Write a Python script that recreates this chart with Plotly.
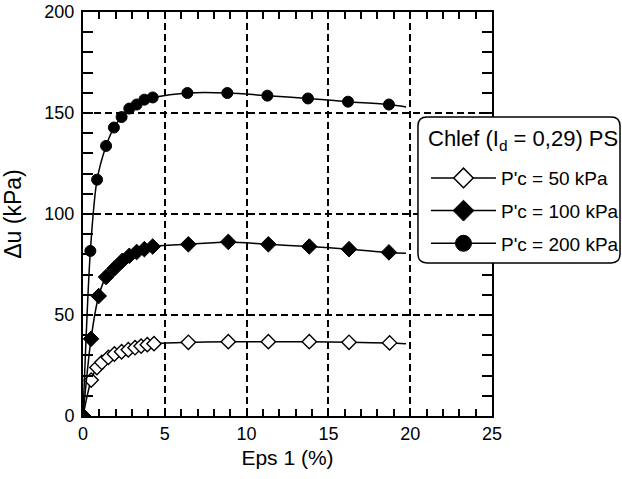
import plotly.graph_objects as go

# ---- data ----
eps_50 = [0, 0.5, 0.85, 1.15, 1.55, 1.92, 2.36, 2.77, 3.18, 3.55, 3.93, 4.34,
          6.44, 8.88, 11.33, 13.83, 16.26, 18.74, 19.74]
du_50 = [0, 17.8, 24.0, 26.5, 29.0, 30.7, 31.8, 32.8, 33.8, 34.6, 35.3, 35.8,
         36.5, 36.8, 36.8, 36.8, 36.5, 36.2, 35.8]

eps_100 = [0, 0.49, 0.96, 1.41, 1.92, 2.4, 2.83, 3.28, 3.75, 4.26,
           6.44, 8.88, 11.33, 13.83, 16.26, 18.7, 19.74]
du_100 = [0, 38.2, 59.4, 68.8, 73.0, 76.8, 79.3, 81.2, 82.6, 83.9,
          85.0, 86.2, 85.0, 83.9, 82.6, 81.0, 80.6]

eps_200 = [0, 0.45, 0.86, 1.41, 1.89, 2.36, 2.83, 3.28, 3.75, 4.26,
           6.38, 8.82, 11.27, 13.75, 16.2, 18.7, 19.75]
du_200 = [0, 81.7, 117.0, 133.7, 142.8, 148.0, 152.2, 154.2, 156.6, 157.7,
          159.9, 159.9, 158.6, 157.2, 155.6, 154.2, 153.0]

series_names = ["P'c = 50 kPa", "P'c = 100 kPa", "P'c = 200 kPa"]
legend_title = "Chlef (I<sub>d</sub> = 0,29) PS"
x_title = "Eps 1 (%)"
y_title = "Δu (kPa)"
x_ticks = [0, 5, 10, 15, 20, 25]
y_ticks = [0, 50, 100, 150, 200]

FONT = "Liberation Sans, Arial, Helvetica, sans-serif"

fig = go.Figure()

styles = [
    dict(symbol="diamond", size=11, color="white", lw=1.4, lsize=15),
    dict(symbol="diamond", size=12, color="black", lw=1, lsize=16),
    dict(symbol="circle", size=11, color="black", lw=1, lsize=16),
]
data = [(eps_50, du_50), (eps_100, du_100), (eps_200, du_200)]

for i, ((xs, ys), name, st) in enumerate(zip(data, series_names, styles)):
    n = len(xs)
    sizes = [st["size"]] * (n - 1) + [0]
    lws = [st["lw"]] * (n - 1) + [0]
    fig.add_trace(go.Scatter(
        x=xs, y=ys, name=name, mode="lines+markers",
        legendgroup=f"g{i}", showlegend=False,
        line=dict(color="black", width=1.5, shape="spline", smoothing=0.8),
        marker=dict(symbol=st["symbol"], size=sizes, color=st["color"], opacity=1,
                    line=dict(color="black", width=lws)),
    ))
    # legend sample (larger symbol, as in the reference key)
    fig.add_trace(go.Scatter(
        x=[None], y=[None], name=name, mode="lines+markers",
        legendgroup=f"g{i}", showlegend=True,
        line=dict(color="black", width=1.5),
        marker=dict(symbol=st["symbol"], size=st["lsize"], color=st["color"], opacity=1,
                    line=dict(color="black", width=1.5 if st["color"] == "white" else 1)),
    ))

axis_common = dict(
    showline=True, linecolor="black", linewidth=2, mirror="ticks",
    ticks="inside", tickcolor="black", tickwidth=1.5,
    showgrid=True, gridcolor="black", gridwidth=1.5, griddash="7px,4px",
    zeroline=False,
    tickfont=dict(family=FONT, size=18, color="black"),
)

fig.update_xaxes(
    range=[0, 25], tickvals=x_ticks, ticklen=7,
    minor=dict(dtick=1, ticks="inside", ticklen=7, tickcolor="black", tickwidth=1.5, showgrid=False),
    title_text=x_title, title_standoff=8,
    title_font=dict(family=FONT, size=21, color="black"),
    **axis_common,
)
fig.update_yaxes(
    range=[0, 200], tickvals=y_ticks, ticklen=10,
    minor=dict(dtick=10, ticks="inside", ticklen=10, tickcolor="black", tickwidth=1.5, showgrid=False),
    title_text=y_title, title_standoff=19, ticklabelstandoff=3,
    title_font=dict(family=FONT, size=23, color="black"),
    **axis_common,
)

# rounded legend frame (paper coordinates)
x0, x1, y0, y1 = 0.819, 1.313, 0.379, 0.740
rx, ry = 0.022, 0.022
path = (f"M {x0+rx},{y0} L {x1-rx},{y0} Q {x1},{y0} {x1},{y0+ry} "
        f"L {x1},{y1-ry} Q {x1},{y1} {x1-rx},{y1} L {x0+rx},{y1} "
        f"Q {x0},{y1} {x0},{y1-ry} L {x0},{y0+ry} Q {x0},{y0} {x0+rx},{y0} Z")
fig.add_shape(type="path", path=path, xref="paper", yref="paper",
              fillcolor="white", line=dict(color="black", width=1.5), layer="above")

fig.add_annotation(text=legend_title, xref="paper", yref="paper",
                   x=0.839, y=0.682, xanchor="left", yanchor="middle", showarrow=False,
                   font=dict(family=FONT, size=22, color="black"))

fig.update_layout(
    width=622, height=479,
    margin=dict(l=83, r=130, t=12, b=63, autoexpand=False),
    paper_bgcolor="white", plot_bgcolor="white",
    font=dict(family=FONT, color="black"),
    showlegend=True,
    legend=dict(
        x=0.8386, y=0.636, xanchor="left", yanchor="top",
        bgcolor="rgba(0,0,0,0)", borderwidth=0,
        traceorder="grouped", tracegroupgap=5, itemwidth=65,
        font=dict(family=FONT, size=19, color="black"),
    ),
)

fig.write_html("out.html")
